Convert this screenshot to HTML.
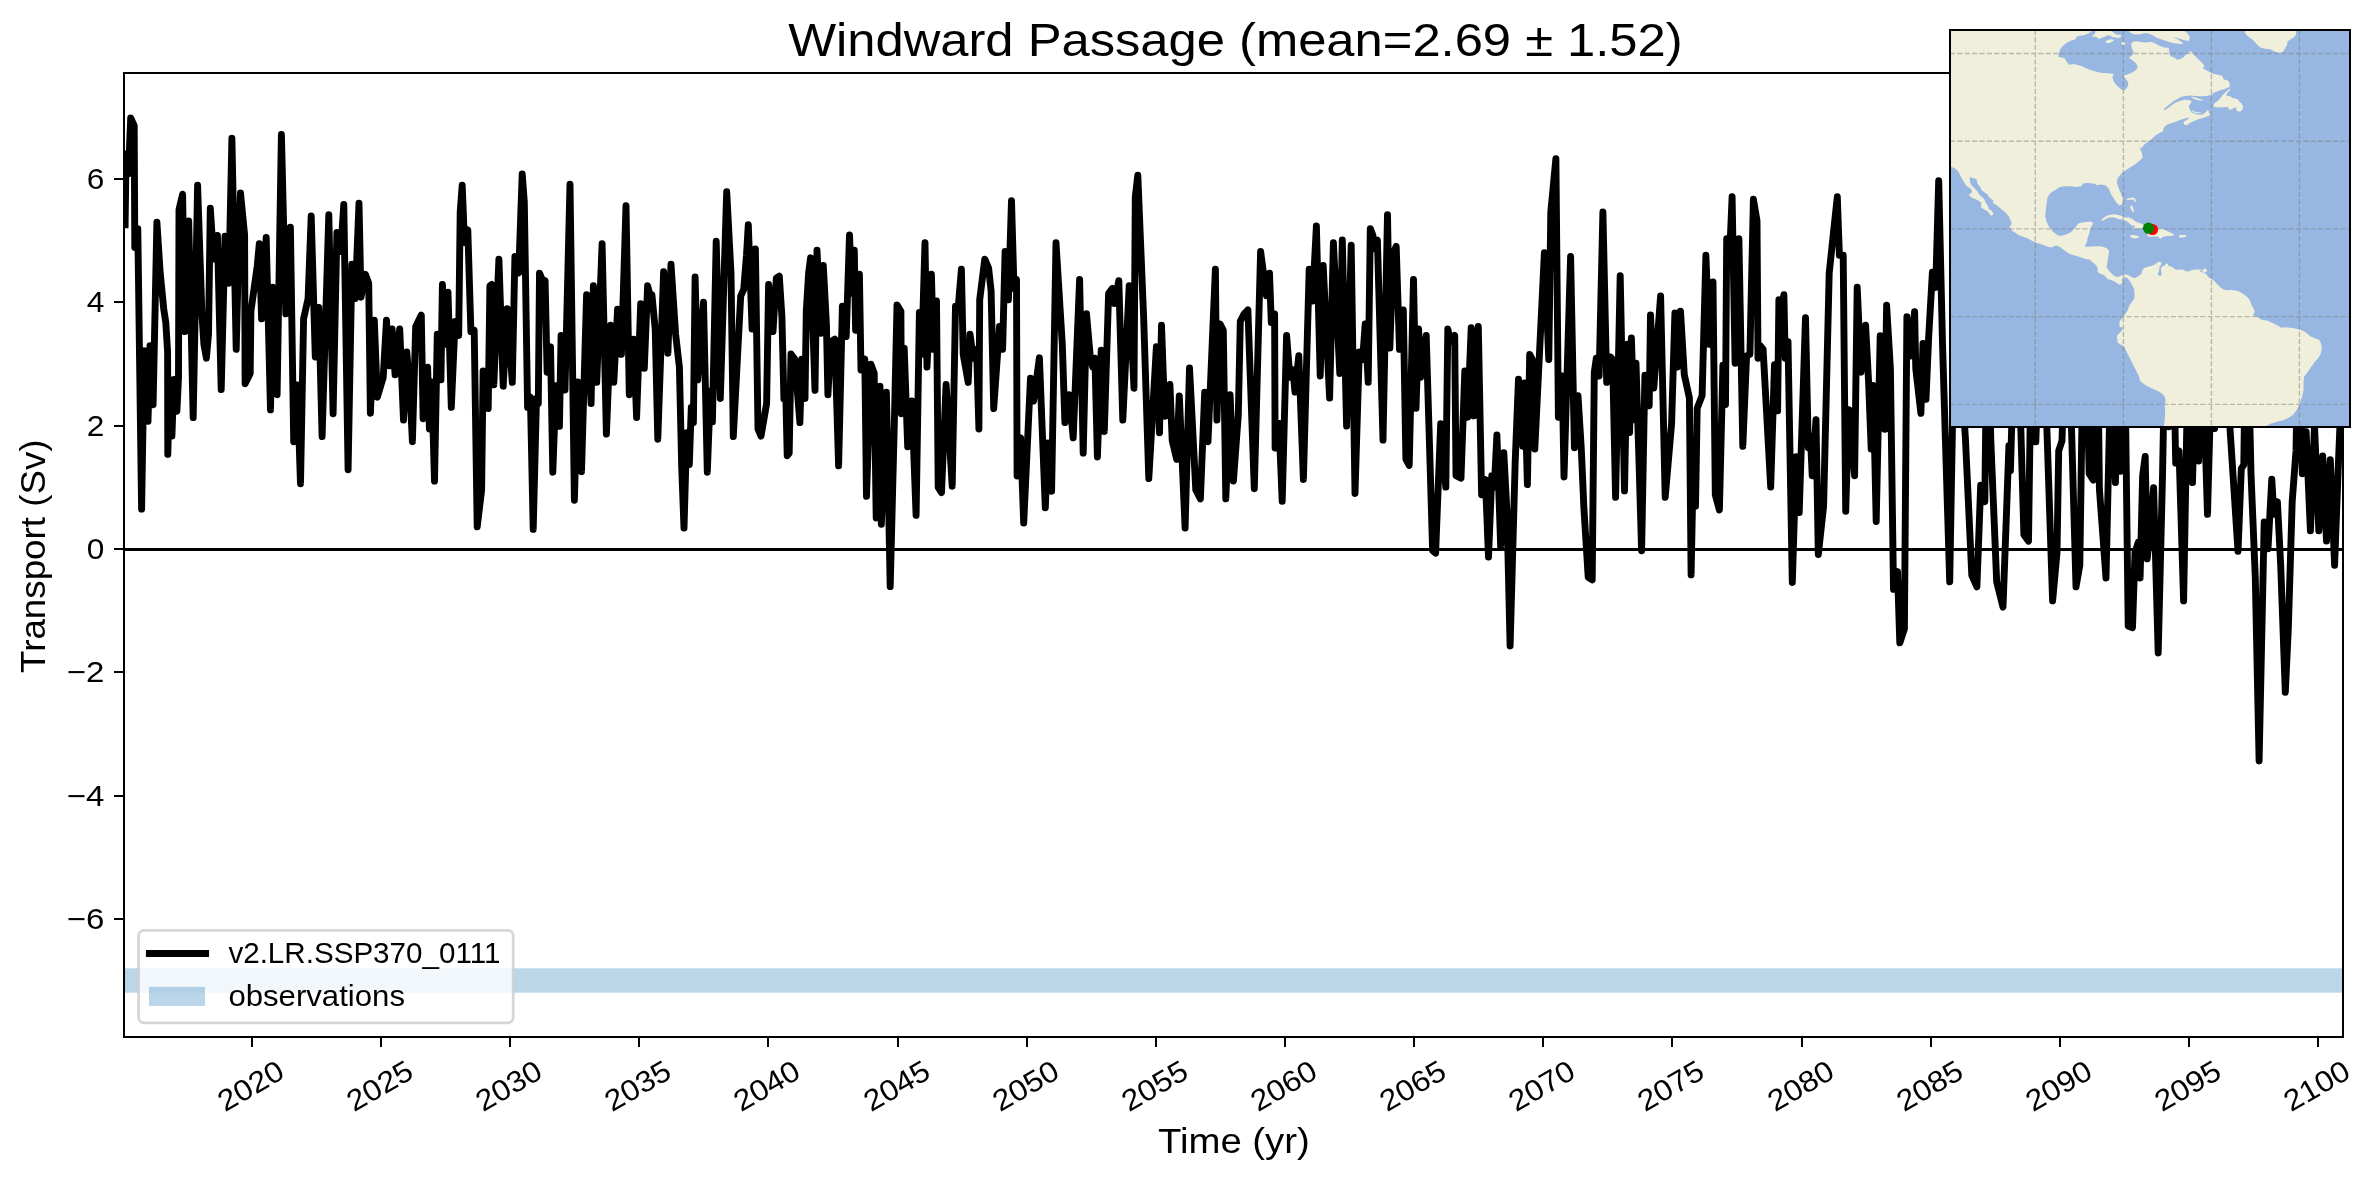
<!DOCTYPE html><html><head><meta charset="utf-8"><title>Windward Passage</title><style>html,body{margin:0;padding:0;background:#fff}svg{display:block;will-change:transform}text{font-family:"Liberation Sans",sans-serif;fill:#000}</style></head><body>
<svg width="2376" height="1180" viewBox="0 0 2376 1180">
<rect width="2376" height="1180" fill="#fff"/>
<defs><clipPath id="ax"><rect x="124.0" y="73.0" width="2219.0" height="964.0"/></clipPath><clipPath id="mp"><rect x="1950" y="30" width="400" height="397"/></clipPath></defs>
<rect x="124.0" y="968.3" width="2219.0" height="24.4" fill="#bbd6e8"/>
<g clip-path="url(#ax)"><path d="M125.1 224.8 L126.1 153.6 L128.4 173.9 L130.7 118.0 L134.2 125.6 L134.8 247.6 L137.8 228.6 L141.6 509.1 L144.2 350.7 L148.0 421.4 L150.0 345.6 L153.1 404.8 L156.9 222.2 L160.2 273.1 L163.7 308.7 L165.8 322.6 L167.6 351.9 L167.8 454.4 L169.6 383.2 L171.9 436.1 L173.9 379.4 L176.9 411.2 L178.5 378.1 L179.0 209.5 L182.6 194.2 L184.8 331.6 L188.7 220.9 L193.2 417.6 L197.6 185.3 L201.9 313.8 L203.9 344.3 L206.4 358.2 L208.5 334.1 L210.3 208.2 L213.6 259.1 L217.4 235.4 L221.2 389.6 L225.0 236.2 L228.8 283.2 L231.9 138.3 L236.2 349.3 L238.2 268.0 L240.5 193.0 L244.6 234.9 L245.1 383.7 L250.2 373.5 L250.9 311.2 L257.3 265.4 L259.3 243.8 L261.6 318.8 L266.2 237.5 L270.5 409.9 L272.6 287.1 L277.1 394.7 L281.4 134.5 L285.8 313.8 L290.4 227.3 L293.7 441.7 L297.2 385.0 L300.5 483.7 L303.6 318.8 L308.1 298.5 L311.2 215.9 L315.3 357.0 L318.8 307.4 L322.1 436.6 L328.8 214.6 L333.1 413.7 L336.9 232.4 L340.7 251.4 L343.8 204.4 L348.1 469.7 L351.9 264.2 L355.2 298.5 L359.0 203.2 L361.0 297.2 L365.4 274.3 L368.7 283.2 L370.4 413.2 L374.3 320.1 L377.3 397.2 L383.2 377.4 L386.5 320.1 L389.0 365.9 L392.1 329.0 L395.1 374.8 L399.7 329.0 L403.5 420.1 L406.8 351.9 L409.9 390.9 L412.4 441.7 L415.7 326.5 L421.3 315.0 L423.1 418.8 L427.6 367.2 L429.4 429.0 L431.7 381.9 L434.5 481.1 L437.3 334.1 L440.9 379.9 L442.4 284.5 L444.9 344.3 L448.0 292.1 L451.3 407.4 L455.1 321.4 L458.7 335.4 L460.2 212.0 L462.2 185.3 L464.5 242.6 L467.8 229.8 L470.9 331.6 L474.2 330.3 L477.2 526.9 L481.6 490.0 L483.1 371.0 L488.2 408.6 L489.9 285.8 L491.7 284.5 L493.8 384.9 L498.9 259.1 L503.2 386.2 L507.2 308.7 L512.3 382.4 L514.9 256.5 L518.7 273.1 L522.2 173.9 L524.3 201.9 L527.6 407.4 L530.4 397.2 L533.2 529.4 L536.5 398.5 L538.3 403.6 L539.5 273.1 L542.1 279.4 L545.1 280.7 L547.1 372.2 L550.5 346.8 L552.8 472.2 L556.0 385.8 L559.4 426.4 L561.1 335.4 L565.0 390.0 L570.0 184.1 L574.4 500.2 L577.7 381.9 L581.5 471.7 L586.6 294.7 L591.1 403.6 L593.4 285.8 L596.7 382.4 L602.1 243.8 L606.4 434.1 L610.7 325.2 L613.8 382.4 L617.6 309.2 L621.4 354.4 L626.0 205.7 L629.3 394.7 L633.6 339.2 L636.6 417.6 L640.7 303.6 L644.3 368.4 L647.6 285.8 L649.6 293.4 L651.9 294.7 L655.2 329.0 L657.8 439.2 L663.6 271.8 L667.9 353.2 L671.0 264.2 L675.6 334.1 L679.4 367.1 L681.7 467.1 L684.0 528.1 L686.7 432.8 L689.3 464.6 L691.3 407.4 L693.4 422.6 L695.1 276.9 L697.7 379.9 L703.5 302.3 L707.3 472.2 L710.4 390.9 L712.4 421.9 L716.2 241.3 L720.3 398.5 L726.7 191.7 L731.0 273.1 L733.3 436.6 L740.7 295.9 L743.7 289.6 L746.5 255.3 L748.3 224.8 L752.1 329.0 L755.4 248.9 L758.0 429.0 L761.0 436.1 L766.6 403.6 L768.6 284.5 L773.0 331.6 L776.3 278.1 L779.3 276.1 L781.9 316.3 L783.9 399.0 L785.7 390.9 L787.2 455.7 L789.2 453.1 L791.0 354.0 L794.8 359.1 L799.9 422.6 L801.7 359.1 L805.0 398.5 L806.3 311.2 L808.6 273.1 L810.6 257.8 L815.0 390.3 L817.0 250.2 L820.9 333.3 L823.3 265.4 L826.4 323.9 L827.9 394.7 L830.9 341.7 L834.8 339.2 L838.6 465.9 L842.4 306.1 L846.2 336.6 L849.5 234.9 L851.8 293.4 L854.3 250.2 L855.6 330.3 L859.4 274.3 L861.0 370.0 L864.8 359.1 L866.5 496.4 L870.9 364.1 L874.2 373.1 L876.2 518.0 L880.0 386.3 L881.3 524.3 L886.4 392.1 L890.2 586.6 L894.5 416.3 L897.0 304.9 L900.9 311.2 L901.4 413.7 L904.2 348.1 L907.7 446.8 L911.8 401.0 L916.1 515.4 L919.4 312.5 L921.7 354.4 L925.0 242.6 L927.0 367.1 L931.4 274.3 L933.4 349.3 L936.5 301.0 L938.2 487.5 L941.5 492.6 L946.1 384.5 L952.2 486.2 L955.5 306.1 L958.1 308.7 L961.4 269.2 L963.2 354.4 L968.2 382.4 L970.0 334.1 L973.3 358.2 L976.6 349.3 L978.9 429.0 L979.7 299.8 L984.8 259.1 L988.6 268.0 L991.1 290.9 L993.7 408.6 L999.5 326.5 L1002.6 349.3 L1005.1 251.4 L1008.4 299.8 L1011.5 200.6 L1014.0 288.3 L1016.5 279.4 L1017.1 476.0 L1020.6 437.9 L1023.7 523.1 L1030.5 378.1 L1033.6 401.0 L1039.4 357.8 L1045.3 507.8 L1047.8 443.0 L1051.6 491.3 L1056.0 242.6 L1062.3 344.3 L1064.9 422.6 L1069.2 394.7 L1073.2 437.9 L1079.6 279.4 L1083.2 453.1 L1086.5 313.8 L1090.3 357.0 L1092.8 367.1 L1094.9 358.2 L1097.4 457.0 L1101.2 350.2 L1104.3 431.5 L1108.6 293.4 L1112.4 288.3 L1114.4 303.6 L1118.8 280.7 L1122.8 420.1 L1129.2 285.8 L1134.0 388.2 L1135.3 196.8 L1137.8 175.2 L1143.7 318.8 L1148.8 478.6 L1156.4 346.8 L1159.5 432.8 L1161.5 325.2 L1164.8 416.3 L1169.9 384.5 L1172.2 440.4 L1176.7 459.5 L1179.3 395.9 L1185.1 528.1 L1189.5 368.0 L1195.8 490.0 L1200.4 498.9 L1204.7 392.1 L1208.0 441.7 L1215.4 269.2 L1216.9 420.1 L1220.0 323.9 L1223.3 330.3 L1225.8 498.9 L1230.1 394.7 L1233.4 481.1 L1238.3 415.0 L1240.3 321.4 L1244.1 313.8 L1247.9 309.9 L1254.3 488.7 L1260.6 251.4 L1266.5 295.9 L1269.5 273.1 L1271.3 322.6 L1274.6 313.8 L1275.1 448.1 L1279.0 423.4 L1282.2 501.4 L1286.6 335.4 L1289.9 377.3 L1292.9 369.7 L1295.0 392.1 L1298.8 355.7 L1303.4 479.5 L1309.2 269.2 L1312.5 301.0 L1316.4 226.0 L1320.2 376.0 L1323.2 265.4 L1329.6 398.1 L1333.4 242.6 L1339.8 373.5 L1342.3 240.0 L1346.6 426.1 L1351.2 245.1 L1355.0 493.5 L1359.3 351.9 L1362.6 359.5 L1365.2 323.9 L1368.2 382.4 L1370.3 228.6 L1372.8 234.9 L1374.6 248.9 L1377.4 240.0 L1383.0 440.1 L1387.5 214.6 L1389.8 348.1 L1393.2 252.7 L1396.2 246.4 L1399.5 349.3 L1403.3 309.9 L1405.9 459.2 L1409.2 465.5 L1413.5 279.4 L1416.0 408.3 L1418.6 329.0 L1420.6 377.3 L1426.2 335.4 L1430.0 461.7 L1432.6 550.7 L1435.6 553.2 L1440.7 423.6 L1445.8 487.1 L1447.8 329.0 L1450.9 341.7 L1454.7 335.4 L1456.0 475.7 L1461.0 478.2 L1464.8 371.0 L1467.6 417.2 L1471.2 327.7 L1473.8 415.9 L1478.3 326.5 L1481.6 494.8 L1485.4 479.5 L1488.5 557.0 L1491.8 475.7 L1494.3 487.1 L1496.9 435.0 L1500.7 546.9 L1503.8 452.8 L1507.0 512.6 L1510.1 646.0 L1515.2 461.7 L1518.5 379.1 L1522.8 446.4 L1524.6 382.9 L1527.4 484.6 L1529.7 354.4 L1533.0 360.8 L1534.8 449.0 L1544.4 252.7 L1548.8 359.5 L1550.8 212.0 L1555.9 158.7 L1558.4 417.2 L1562.2 376.0 L1564.0 477.0 L1570.6 256.5 L1574.4 447.7 L1578.0 395.6 L1581.3 449.0 L1583.8 506.2 L1588.2 577.4 L1592.2 579.9 L1594.3 372.2 L1596.3 358.2 L1599.1 376.0 L1602.9 212.0 L1606.7 382.4 L1610.5 357.0 L1612.6 359.5 L1615.6 497.3 L1620.2 275.6 L1624.5 490.9 L1627.3 344.3 L1629.6 432.5 L1631.4 337.9 L1633.9 419.8 L1636.0 363.3 L1639.0 461.7 L1641.6 550.7 L1644.9 375.3 L1649.2 405.8 L1650.5 315.0 L1653.8 388.0 L1660.6 295.9 L1665.2 497.3 L1671.6 423.6 L1674.9 313.0 L1677.4 367.1 L1680.5 311.2 L1684.3 374.8 L1689.4 398.1 L1691.1 574.9 L1693.4 457.9 L1695.5 506.2 L1697.2 408.3 L1702.1 395.6 L1705.9 255.3 L1709.2 344.3 L1713.0 282.0 L1715.3 494.8 L1719.4 510.0 L1722.9 365.1 L1725.5 404.5 L1726.7 238.7 L1729.5 257.8 L1732.1 196.8 L1735.1 363.3 L1738.9 238.7 L1742.8 446.4 L1746.6 355.7 L1749.9 354.4 L1753.4 199.3 L1757.0 220.9 L1758.0 358.2 L1760.0 345.5 L1763.1 349.3 L1770.7 487.1 L1774.5 364.6 L1777.6 410.9 L1778.9 299.8 L1781.4 311.2 L1783.9 294.7 L1785.2 358.2 L1788.0 341.7 L1792.3 582.5 L1796.2 456.6 L1799.2 512.6 L1805.5 317.6 L1808.3 447.7 L1810.4 436.3 L1812.2 475.7 L1816.0 419.8 L1818.3 554.5 L1823.6 506.2 L1829.2 273.1 L1834.3 224.8 L1837.3 196.8 L1839.4 255.3 L1843.2 255.3 L1845.7 511.3 L1848.8 409.6 L1854.6 475.7 L1857.2 287.1 L1861.0 372.2 L1865.6 325.2 L1868.6 382.4 L1871.2 449.0 L1873.2 385.4 L1876.2 521.5 L1880.2 335.8 L1884.8 429.4 L1886.6 305.3 L1890.4 368.8 L1893.5 589.4 L1897.5 571.6 L1899.8 642.8 L1904.4 628.8 L1906.9 316.7 L1910.2 356.1 L1914.6 311.6 L1915.8 368.8 L1920.9 413.3 L1923.0 343.4 L1926.0 399.3 L1928.6 338.3 L1932.4 272.2 L1935.7 287.5 L1938.7 180.7 L1942.5 343.4 L1949.7 581.8 L1955.2 272.2 L1965.4 438.1 L1971.8 575.4 L1976.9 586.9 L1980.7 485.2 L1984.8 501.7 L1987.5 272.2 L1990.8 440.7 L1996.7 581.8 L2003.0 607.2 L2006.9 501.7 L2008.9 445.8 L2010.4 470.7 L2016.3 272.2 L2023.9 534.8 L2028.5 541.1 L2032.3 272.2 L2035.8 441.9 L2041.7 272.2 L2052.6 600.9 L2057.0 552.6 L2058.7 450.9 L2062.0 440.7 L2067.1 272.2 L2076.0 586.9 L2079.8 565.3 L2084.2 272.2 L2089.2 473.7 L2093.3 480.1 L2096.9 272.2 L2099.4 489.0 L2106.0 578.0 L2110.9 361.9 L2115.4 482.6 L2118.0 374.6 L2120.5 471.2 L2123.8 272.2 L2128.2 626.3 L2132.5 627.6 L2135.0 552.6 L2138.3 542.4 L2140.1 578.0 L2142.6 476.3 L2145.2 456.4 L2147.2 558.9 L2150.3 527.1 L2153.6 487.7 L2158.2 653.0 L2162.5 476.3 L2166.3 272.2 L2168.8 426.7 L2172.1 272.2 L2175.7 463.1 L2179.0 450.9 L2183.6 600.9 L2188.2 349.1 L2192.5 482.6 L2195.5 361.9 L2198.6 461.0 L2202.7 361.9 L2207.5 514.4 L2211.3 374.6 L2214.6 428.5 L2220.9 272.2 L2229.8 425.4 L2238.0 551.3 L2241.3 468.6 L2243.8 464.8 L2246.4 272.2 L2251.0 473.7 L2255.3 578.0 L2259.1 761.0 L2264.2 522.0 L2268.0 548.7 L2271.8 479.3 L2273.8 514.4 L2277.4 501.7 L2280.7 565.3 L2285.3 692.4 L2288.3 628.8 L2292.2 501.7 L2296.0 450.9 L2299.3 272.2 L2302.3 473.7 L2306.1 431.8 L2310.4 530.9 L2314.5 425.4 L2318.8 530.9 L2322.7 455.9 L2326.5 541.1 L2330.3 459.8 L2334.6 565.3 L2338.4 463.6 L2341.0 400.0 L2343.2 349.1" fill="none" stroke="#000" stroke-width="6.9" stroke-linejoin="round" stroke-linecap="square"/>
<line x1="124.0" x2="2343.0" y1="549.5" y2="549.5" stroke="#000" stroke-width="3"/></g>
<rect x="124.0" y="73.0" width="2219.0" height="964.0" fill="none" stroke="#000" stroke-width="2"/>
<line x1="114.0" x2="124.0" y1="179.0" y2="179.0" stroke="#000" stroke-width="2"/>
<text x="104.3" y="189.3" font-size="29.6" text-anchor="end" textLength="17.6" lengthAdjust="spacingAndGlyphs" >6</text>
<line x1="114.0" x2="124.0" y1="302.0" y2="302.0" stroke="#000" stroke-width="2"/>
<text x="104.3" y="312.3" font-size="29.6" text-anchor="end" textLength="17.6" lengthAdjust="spacingAndGlyphs" >4</text>
<line x1="114.0" x2="124.0" y1="426.0" y2="426.0" stroke="#000" stroke-width="2"/>
<text x="104.3" y="436.3" font-size="29.6" text-anchor="end" textLength="17.6" lengthAdjust="spacingAndGlyphs" >2</text>
<line x1="114.0" x2="124.0" y1="549.0" y2="549.0" stroke="#000" stroke-width="2"/>
<text x="104.3" y="559.3" font-size="29.6" text-anchor="end" textLength="17.6" lengthAdjust="spacingAndGlyphs" >0</text>
<line x1="114.0" x2="124.0" y1="672.0" y2="672.0" stroke="#000" stroke-width="2"/>
<text x="104.3" y="682.3" font-size="29.6" text-anchor="end" textLength="37.6" lengthAdjust="spacingAndGlyphs" >−2</text>
<line x1="114.0" x2="124.0" y1="796.0" y2="796.0" stroke="#000" stroke-width="2"/>
<text x="104.3" y="806.3" font-size="29.6" text-anchor="end" textLength="37.6" lengthAdjust="spacingAndGlyphs" >−4</text>
<line x1="114.0" x2="124.0" y1="919.0" y2="919.0" stroke="#000" stroke-width="2"/>
<text x="104.3" y="929.3" font-size="29.6" text-anchor="end" textLength="37.6" lengthAdjust="spacingAndGlyphs" >−6</text>
<line x1="252.0" x2="252.0" y1="1037.0" y2="1047.0" stroke="#000" stroke-width="2"/>
<g transform="translate(250.5,1085.5) rotate(-30)"><text x="0.0" y="10.5" font-size="29.6" text-anchor="middle" textLength="71.0" lengthAdjust="spacingAndGlyphs" >2020</text></g>
<line x1="381.0" x2="381.0" y1="1037.0" y2="1047.0" stroke="#000" stroke-width="2"/>
<g transform="translate(379.5,1085.5) rotate(-30)"><text x="0.0" y="10.5" font-size="29.6" text-anchor="middle" textLength="71.0" lengthAdjust="spacingAndGlyphs" >2025</text></g>
<line x1="510.0" x2="510.0" y1="1037.0" y2="1047.0" stroke="#000" stroke-width="2"/>
<g transform="translate(508.5,1085.5) rotate(-30)"><text x="0.0" y="10.5" font-size="29.6" text-anchor="middle" textLength="71.0" lengthAdjust="spacingAndGlyphs" >2030</text></g>
<line x1="639.0" x2="639.0" y1="1037.0" y2="1047.0" stroke="#000" stroke-width="2"/>
<g transform="translate(637.5,1085.5) rotate(-30)"><text x="0.0" y="10.5" font-size="29.6" text-anchor="middle" textLength="71.0" lengthAdjust="spacingAndGlyphs" >2035</text></g>
<line x1="768.0" x2="768.0" y1="1037.0" y2="1047.0" stroke="#000" stroke-width="2"/>
<g transform="translate(766.5,1085.5) rotate(-30)"><text x="0.0" y="10.5" font-size="29.6" text-anchor="middle" textLength="71.0" lengthAdjust="spacingAndGlyphs" >2040</text></g>
<line x1="898.0" x2="898.0" y1="1037.0" y2="1047.0" stroke="#000" stroke-width="2"/>
<g transform="translate(896.5,1085.5) rotate(-30)"><text x="0.0" y="10.5" font-size="29.6" text-anchor="middle" textLength="71.0" lengthAdjust="spacingAndGlyphs" >2045</text></g>
<line x1="1027.0" x2="1027.0" y1="1037.0" y2="1047.0" stroke="#000" stroke-width="2"/>
<g transform="translate(1025.5,1085.5) rotate(-30)"><text x="0.0" y="10.5" font-size="29.6" text-anchor="middle" textLength="71.0" lengthAdjust="spacingAndGlyphs" >2050</text></g>
<line x1="1156.0" x2="1156.0" y1="1037.0" y2="1047.0" stroke="#000" stroke-width="2"/>
<g transform="translate(1154.5,1085.5) rotate(-30)"><text x="0.0" y="10.5" font-size="29.6" text-anchor="middle" textLength="71.0" lengthAdjust="spacingAndGlyphs" >2055</text></g>
<line x1="1285.0" x2="1285.0" y1="1037.0" y2="1047.0" stroke="#000" stroke-width="2"/>
<g transform="translate(1283.5,1085.5) rotate(-30)"><text x="0.0" y="10.5" font-size="29.6" text-anchor="middle" textLength="71.0" lengthAdjust="spacingAndGlyphs" >2060</text></g>
<line x1="1414.0" x2="1414.0" y1="1037.0" y2="1047.0" stroke="#000" stroke-width="2"/>
<g transform="translate(1412.5,1085.5) rotate(-30)"><text x="0.0" y="10.5" font-size="29.6" text-anchor="middle" textLength="71.0" lengthAdjust="spacingAndGlyphs" >2065</text></g>
<line x1="1543.0" x2="1543.0" y1="1037.0" y2="1047.0" stroke="#000" stroke-width="2"/>
<g transform="translate(1541.5,1085.5) rotate(-30)"><text x="0.0" y="10.5" font-size="29.6" text-anchor="middle" textLength="71.0" lengthAdjust="spacingAndGlyphs" >2070</text></g>
<line x1="1672.0" x2="1672.0" y1="1037.0" y2="1047.0" stroke="#000" stroke-width="2"/>
<g transform="translate(1670.5,1085.5) rotate(-30)"><text x="0.0" y="10.5" font-size="29.6" text-anchor="middle" textLength="71.0" lengthAdjust="spacingAndGlyphs" >2075</text></g>
<line x1="1802.0" x2="1802.0" y1="1037.0" y2="1047.0" stroke="#000" stroke-width="2"/>
<g transform="translate(1800.5,1085.5) rotate(-30)"><text x="0.0" y="10.5" font-size="29.6" text-anchor="middle" textLength="71.0" lengthAdjust="spacingAndGlyphs" >2080</text></g>
<line x1="1931.0" x2="1931.0" y1="1037.0" y2="1047.0" stroke="#000" stroke-width="2"/>
<g transform="translate(1929.5,1085.5) rotate(-30)"><text x="0.0" y="10.5" font-size="29.6" text-anchor="middle" textLength="71.0" lengthAdjust="spacingAndGlyphs" >2085</text></g>
<line x1="2060.0" x2="2060.0" y1="1037.0" y2="1047.0" stroke="#000" stroke-width="2"/>
<g transform="translate(2058.5,1085.5) rotate(-30)"><text x="0.0" y="10.5" font-size="29.6" text-anchor="middle" textLength="71.0" lengthAdjust="spacingAndGlyphs" >2090</text></g>
<line x1="2189.0" x2="2189.0" y1="1037.0" y2="1047.0" stroke="#000" stroke-width="2"/>
<g transform="translate(2187.5,1085.5) rotate(-30)"><text x="0.0" y="10.5" font-size="29.6" text-anchor="middle" textLength="71.0" lengthAdjust="spacingAndGlyphs" >2095</text></g>
<line x1="2318.0" x2="2318.0" y1="1037.0" y2="1047.0" stroke="#000" stroke-width="2"/>
<g transform="translate(2316.5,1085.5) rotate(-30)"><text x="0.0" y="10.5" font-size="29.6" text-anchor="middle" textLength="71.0" lengthAdjust="spacingAndGlyphs" >2100</text></g>
<text x="1235.4" y="55.7" font-size="46.5" text-anchor="middle" textLength="894.5" lengthAdjust="spacingAndGlyphs" >Windward Passage (mean=2.69 ± 1.52)</text>
<text x="1233.9" y="1153.0" font-size="35.2" text-anchor="middle" textLength="151.9" lengthAdjust="spacingAndGlyphs" >Time (yr)</text>
<g transform="translate(45.0,556.2) rotate(-90)"><text x="0.0" y="0.0" font-size="35.2" text-anchor="middle" textLength="233.4" lengthAdjust="spacingAndGlyphs" >Transport (Sv)</text></g>
<rect x="138.6" y="930.4" width="374.6" height="92.5" rx="5.5" ry="5.5" fill="#fff" fill-opacity="0.8" stroke="#ccc" stroke-opacity="0.8" stroke-width="2.8"/>
<line x1="149.4" x2="205.6" y1="953.5" y2="953.5" stroke="#000" stroke-width="6.94" stroke-linecap="square"/>
<rect x="149.0" y="986.9" width="56.0" height="19.1" fill="#1f77b4" fill-opacity="0.3"/>
<text x="228.4" y="962.9" font-size="29.6" text-anchor="start" textLength="272.0" lengthAdjust="spacingAndGlyphs" >v2.LR.SSP370_0111</text>
<text x="228.4" y="1005.9" font-size="29.6" text-anchor="start" textLength="176.6" lengthAdjust="spacingAndGlyphs" >observations</text>
<g clip-path="url(#mp)"><rect x="1950" y="30" width="400" height="397" fill="#97b6e1"/>
<path fill="#efefdb" d="M1946.0 26.0 L2091.9 27.8 L2091.9 30.9 L2088.4 33.6 L2084.8 34.9 L2077.7 36.2 L2075.9 37.6 L2075.5 39.3 L2070.6 40.7 L2065.2 43.8 L2060.8 48.2 L2058.8 52.7 L2058.3 56.7 L2064.3 58.0 L2066.6 61.6 L2068.8 64.7 L2074.1 64.1 L2081.3 66.0 L2088.4 69.2 L2095.5 71.4 L2100.8 72.7 L2108.8 73.2 L2113.7 74.1 L2112.4 77.6 L2113.7 81.6 L2116.8 85.6 L2120.4 88.7 L2123.1 90.5 L2125.7 89.6 L2128.4 85.2 L2127.5 81.2 L2124.0 76.7 L2123.1 75.4 L2127.5 74.5 L2132.9 72.3 L2136.4 69.6 L2137.8 66.9 L2136.4 63.8 L2132.9 60.7 L2128.9 57.6 L2132.9 54.5 L2133.8 52.3 L2132.4 49.6 L2131.5 46.5 L2131.1 43.4 L2133.1 41.8 L2136.7 41.3 L2142.0 42.2 L2146.5 42.5 L2150.9 41.8 L2155.4 43.4 L2159.8 46.0 L2164.3 47.4 L2168.7 47.8 L2169.2 52.7 L2170.5 56.3 L2174.1 57.6 L2177.2 59.8 L2180.3 58.9 L2183.9 57.1 L2186.5 54.0 L2190.5 50.9 L2193.6 54.5 L2197.2 58.0 L2200.8 61.6 L2204.3 65.2 L2203.0 68.7 L2207.0 70.5 L2211.4 73.2 L2216.8 74.5 L2222.1 75.8 L2223.9 79.4 L2227.5 80.3 L2229.7 82.9 L2229.7 86.5 L2228.3 87.4 L2223.9 89.2 L2219.5 90.5 L2215.0 92.3 L2210.6 95.0 L2206.1 95.9 L2200.8 96.3 L2195.4 95.9 L2190.1 95.4 L2185.6 95.9 L2181.2 96.7 L2177.6 99.0 L2174.1 100.7 L2170.5 103.4 L2166.9 106.5 L2163.4 109.6 L2165.2 110.1 L2168.7 107.4 L2172.3 104.8 L2175.8 102.5 L2180.3 100.7 L2184.7 99.7 L2189.2 100.0 L2191.9 101.6 L2190.1 103.9 L2188.8 106.1 L2189.6 108.8 L2190.5 111.0 L2192.3 112.8 L2195.4 114.1 L2199.0 114.8 L2202.5 114.5 L2205.7 112.3 L2207.9 110.1 L2208.9 111.4 L2208.8 113.6 L2211.0 114.5 L2207.9 116.3 L2203.4 117.7 L2199.0 119.0 L2194.5 120.8 L2190.5 122.5 L2187.9 124.8 L2184.7 124.9 L2183.4 123.4 L2183.9 121.7 L2187.4 119.4 L2190.1 117.7 L2186.5 118.1 L2183.0 119.0 L2179.4 120.3 L2175.8 121.7 L2172.3 123.0 L2167.8 124.3 L2164.7 126.6 L2163.2 129.2 L2163.4 131.0 L2156.0 134.9 L2150.7 139.9 L2145.3 143.5 L2140.9 148.8 L2138.6 145.6 L2141.8 152.4 L2142.7 157.7 L2139.1 161.3 L2132.9 165.7 L2125.7 170.2 L2121.3 173.7 L2117.7 178.2 L2116.8 182.6 L2118.6 188.0 L2121.3 194.2 L2123.1 199.5 L2122.2 204.0 L2119.5 205.4 L2116.0 202.2 L2113.3 197.7 L2110.6 193.3 L2108.8 188.8 L2105.3 185.3 L2100.8 184.4 L2097.3 185.3 L2093.7 183.5 L2088.4 183.0 L2083.0 183.5 L2081.3 186.2 L2076.8 187.1 L2070.6 186.2 L2065.2 186.2 L2059.9 187.1 L2054.6 190.6 L2050.1 193.3 L2047.4 197.7 L2046.6 204.0 L2045.7 211.1 L2045.3 216.4 L2046.6 221.8 L2049.2 227.1 L2052.8 231.6 L2057.2 235.1 L2059.9 236.0 L2064.3 235.1 L2070.6 232.5 L2075.0 228.0 L2076.9 225.4 L2078.2 223.6 L2081.8 222.5 L2086.3 222.0 L2090.3 221.4 L2092.7 222.3 L2092.9 224.0 L2091.6 226.3 L2090.3 229.4 L2089.4 232.5 L2088.7 235.2 L2087.6 237.8 L2087.1 241.4 L2085.8 244.5 L2084.5 246.3 L2086.7 246.7 L2091.6 246.5 L2096.0 246.3 L2100.5 246.3 L2104.5 247.2 L2107.6 248.9 L2109.2 251.2 L2108.9 253.8 L2108.1 257.4 L2107.6 261.0 L2107.2 264.5 L2106.5 267.2 L2108.5 269.9 L2110.7 272.5 L2112.9 274.8 L2115.2 276.5 L2118.3 277.0 L2121.4 275.6 L2124.1 274.3 L2127.2 274.8 L2129.9 276.1 L2132.5 277.4 L2135.2 277.9 L2137.9 276.5 L2140.5 274.8 L2141.9 272.5 L2142.3 269.9 L2144.1 268.1 L2147.7 266.7 L2151.2 265.9 L2154.8 264.5 L2157.9 262.3 L2159.7 261.7 L2161.7 262.7 L2161.0 265.0 L2159.7 266.3 L2159.2 268.5 L2159.2 270.7 L2157.9 273.4 L2158.3 275.2 L2160.1 276.1 L2161.7 274.8 L2161.4 272.5 L2161.0 269.9 L2161.4 267.2 L2162.8 266.3 L2165.0 265.0 L2166.3 263.2 L2167.7 264.1 L2168.6 265.9 L2171.7 266.7 L2174.3 268.5 L2175.7 269.7 L2179.7 269.4 L2183.2 269.7 L2185.9 271.2 L2188.6 271.6 L2191.3 270.3 L2194.8 269.4 L2199.3 269.4 L2201.9 269.9 L2199.7 271.2 L2201.9 272.3 L2203.7 272.7 L2206.4 274.3 L2208.2 277.0 L2210.8 278.8 L2214.4 281.0 L2217.1 284.1 L2219.7 286.8 L2223.3 289.4 L2226.8 290.3 L2231.3 289.9 L2235.7 290.5 L2240.2 292.1 L2243.8 294.3 L2247.3 297.0 L2249.5 299.7 L2250.0 301.0 L2251.9 305.4 L2253.7 309.0 L2254.9 311.7 L2252.8 315.2 L2257.2 317.0 L2261.7 319.7 L2267.0 320.6 L2273.2 323.2 L2278.6 325.9 L2281.3 327.7 L2286.6 327.3 L2293.7 328.2 L2299.9 329.5 L2305.3 332.1 L2310.6 336.6 L2315.1 338.3 L2319.5 340.1 L2321.3 344.6 L2321.8 349.0 L2320.4 354.4 L2317.7 358.8 L2314.2 362.4 L2310.6 367.7 L2307.1 373.1 L2304.0 376.6 L2303.5 383.7 L2303.5 390.8 L2301.7 398.0 L2299.4 405.1 L2296.4 410.4 L2293.7 414.0 L2289.3 417.5 L2283.0 420.2 L2275.9 422.0 L2270.6 423.8 L2266.1 425.9 L2266.1 430.0 L2163.8 430.0 L2163.8 425.9 L2164.7 419.3 L2165.2 412.2 L2164.7 405.1 L2165.6 399.7 L2163.8 395.3 L2159.3 391.7 L2153.1 389.1 L2146.0 385.5 L2140.0 381.1 L2139.1 376.6 L2132.9 364.2 L2127.5 353.5 L2124.0 346.4 L2117.7 342.8 L2116.8 335.7 L2121.3 331.2 L2123.1 327.7 L2119.5 326.8 L2119.5 321.4 L2123.1 317.0 L2127.5 310.8 L2129.3 305.4 L2134.6 298.3 L2134.8 301.0 L2134.3 297.4 L2134.5 293.9 L2134.1 289.4 L2132.7 285.9 L2130.9 282.8 L2129.1 280.1 L2127.2 278.0 L2125.0 277.2 L2122.9 278.0 L2121.7 279.8 L2122.6 281.4 L2122.0 283.6 L2119.6 284.8 L2116.5 282.8 L2113.8 281.0 L2110.3 280.1 L2107.2 278.8 L2105.8 276.5 L2103.2 274.8 L2099.6 273.4 L2097.4 271.6 L2097.8 269.9 L2096.9 266.3 L2094.3 263.6 L2091.6 261.4 L2089.8 259.4 L2086.3 259.2 L2081.8 257.8 L2077.4 256.3 L2073.8 255.2 L2070.2 254.3 L2066.7 252.1 L2063.1 249.4 L2059.6 246.7 L2056.0 245.4 L2051.0 247.6 L2046.6 246.3 L2040.3 244.0 L2033.2 241.4 L2028.0 238.6 L2024.6 237.3 L2021.2 236.3 L2018.5 234.9 L2015.8 232.9 L2012.7 231.2 L2010.7 229.2 L2009.4 226.8 L2011.1 225.1 L2011.6 222.7 L2010.4 220.3 L2009.4 217.6 L2007.0 214.2 L2004.3 211.5 L2001.6 209.5 L1998.8 207.1 L1996.8 205.1 L1994.1 203.7 L1992.7 202.4 L1993.8 200.7 L1992.1 199.7 L1990.0 198.0 L1988.3 196.3 L1987.7 194.2 L1985.6 193.2 L1983.3 191.5 L1981.2 189.8 L1980.9 188.1 L1978.8 185.4 L1977.2 182.4 L1976.8 179.7 L1975.1 178.6 L1973.1 178.2 L1970.7 177.3 L1969.6 177.8 L1969.8 179.3 L1970.0 181.7 L1970.7 184.1 L1972.7 186.4 L1975.1 188.8 L1977.5 191.5 L1979.2 194.2 L1981.2 196.6 L1983.6 198.6 L1984.9 200.7 L1986.3 203.4 L1988.0 206.1 L1988.5 208.8 L1990.0 209.5 L1992.1 211.5 L1993.6 213.9 L1992.1 215.6 L1990.4 215.6 L1989.4 213.2 L1986.6 210.8 L1983.9 209.2 L1981.1 207.5 L1981.2 204.7 L1981.1 202.4 L1978.5 200.7 L1975.8 199.3 L1972.4 198.0 L1969.7 195.9 L1968.7 194.2 L1971.4 193.2 L1972.1 191.2 L1971.1 189.2 L1969.0 187.5 L1966.3 186.1 L1964.6 183.1 L1962.6 179.7 L1960.2 175.6 L1958.8 172.2 L1956.8 169.8 L1954.1 168.1 L1951.1 166.8 L1946.0 166.8Z"/>
<path fill="#efefdb" d="M2129.1 27.8 L2129.1 30.9 L2130.5 33.1 L2134.9 34.5 L2140.3 34.2 L2145.6 32.9 L2149.2 33.8 L2152.7 35.3 L2157.2 38.0 L2162.5 39.8 L2167.8 41.6 L2174.1 43.2 L2180.3 44.0 L2183.7 43.4 L2181.2 41.8 L2177.6 39.3 L2173.4 36.9 L2175.8 37.4 L2180.3 38.9 L2184.7 40.2 L2188.8 40.9 L2189.9 38.0 L2188.8 34.9 L2186.5 32.4 L2184.3 30.9 L2184.3 27.8Z"/>
<path fill="#efefdb" d="M2244.8 27.8 L2244.8 30.9 L2245.7 34.0 L2248.8 37.1 L2253.3 40.2 L2256.8 44.2 L2260.4 47.4 L2264.8 48.7 L2270.2 49.3 L2274.6 51.4 L2278.2 52.7 L2282.6 52.3 L2284.9 48.7 L2287.1 45.1 L2287.5 41.6 L2290.6 39.3 L2294.2 37.1 L2296.0 34.5 L2296.2 30.9 L2296.2 27.8Z"/>
<path fill="#efefdb" d="M2095.5 27.8 L2095.5 30.9 L2094.6 34.0 L2091.5 36.2 L2096.4 37.1 L2099.1 38.9 L2102.6 37.6 L2108.8 34.9 L2112.4 37.1 L2118.6 38.0 L2121.7 36.2 L2120.4 34.9 L2116.0 34.5 L2113.3 32.2 L2110.6 30.9 L2110.6 27.8Z"/>
<path fill="#efefdb" d="M2105.3 42.0 L2107.1 40.2 L2110.6 39.3 L2114.6 39.8 L2112.4 41.6 L2109.7 42.9 L2106.6 42.9Z"/>
<path fill="#efefdb" d="M2120.9 43.4 L2123.1 41.6 L2125.7 43.4 L2123.5 45.6Z"/>
<path fill="#efefdb" d="M2229.7 88.7 L2225.7 92.3 L2222.6 95.0 L2220.8 97.6 L2218.1 100.7 L2214.6 103.0 L2213.7 104.8 L2213.2 106.5 L2216.8 107.2 L2222.1 107.4 L2226.6 107.0 L2229.2 107.9 L2228.8 110.1 L2231.9 109.2 L2234.6 107.4 L2236.4 107.4 L2236.2 110.1 L2238.1 111.4 L2240.8 111.6 L2242.6 109.2 L2243.0 106.5 L2241.7 103.4 L2239.5 102.1 L2238.6 99.9 L2235.5 98.5 L2232.4 98.1 L2230.1 96.3 L2227.5 95.9 L2226.1 94.7 L2228.3 91.8 L2230.6 89.2Z"/>
<path fill="#efefdb" d="M2191.0 96.7 L2195.4 97.6 L2199.9 99.0 L2203.0 100.0 L2201.7 100.7 L2197.2 99.9 L2192.8 98.5Z"/>
<path fill="#efefdb" d="M2191.9 110.1 L2194.5 111.4 L2198.1 112.5 L2201.7 112.1 L2199.0 113.6 L2195.4 113.0 L2192.8 111.9Z"/>
<path fill="#efefdb" d="M2101.4 219.8 L2104.1 217.4 L2107.6 215.6 L2111.2 214.4 L2114.7 214.2 L2118.3 214.9 L2121.8 216.0 L2125.4 217.4 L2129.0 217.4 L2131.6 218.7 L2134.3 220.5 L2136.5 222.0 L2139.6 223.1 L2142.8 224.3 L2144.1 225.8 L2143.6 227.6 L2140.5 228.2 L2137.0 228.5 L2134.3 229.1 L2133.2 228.5 L2135.2 226.7 L2134.3 225.8 L2131.6 225.2 L2129.4 223.6 L2127.6 221.8 L2125.4 220.5 L2122.3 219.6 L2118.3 219.0 L2115.2 217.8 L2112.1 217.2 L2108.9 217.5 L2105.8 219.0 L2103.2 220.5 L2101.6 220.7Z"/>
<path fill="#efefdb" d="M2129.9 235.6 L2132.5 235.0 L2136.1 235.2 L2138.8 236.5 L2139.2 237.6 L2136.5 238.0 L2134.3 238.7 L2131.6 237.4 L2130.0 236.5Z"/>
<path fill="#efefdb" d="M2146.9 235.3 L2150.3 233.4 L2152.1 229.8 L2157.4 228.7 L2161.0 228.7 L2164.1 229.4 L2167.2 231.1 L2170.3 232.5 L2173.0 233.8 L2173.9 234.9 L2171.7 235.9 L2168.1 235.9 L2165.0 236.5 L2162.8 236.9 L2161.0 238.5 L2159.9 238.9 L2158.8 237.1 L2156.6 236.5 L2153.0 236.5 L2150.3 236.8 L2148.1 236.5Z"/>
<path fill="#efefdb" d="M2179.0 235.2 L2182.4 234.8 L2185.9 235.2 L2186.1 237.1 L2182.4 237.6 L2179.2 237.6Z"/>
<path fill="#efefdb" d="M2126.7 198.7 L2129.9 198.0 L2133.0 197.6 L2135.2 198.7 L2135.9 200.9 L2135.2 202.4 L2134.3 201.3 L2133.6 199.6 L2130.7 199.7 L2127.2 200.0Z"/>
<path fill="#efefdb" d="M2130.3 205.8 L2132.1 205.3 L2133.2 208.0 L2134.1 211.1 L2133.0 212.2 L2131.6 210.2 L2130.3 207.6Z"/>
<path fill="#efefdb" d="M2202.8 269.4 L2205.5 268.3 L2206.8 269.9 L2206.4 272.1 L2203.7 272.7 L2202.4 271.6Z"/>
<path d="M2035.3 30V427M2123.4 30V427M2211.4 30V427M2299.4 30V427M1950 53.5H2350M1950 141.2H2350M1950 228.9H2350M1950 316.6H2350M1950 404.4H2350" fill="none" stroke="#808080" stroke-opacity="0.5" stroke-width="1.4" stroke-dasharray="5.14 2.22"/>
<circle cx="2152.5" cy="229.5" r="5.6" fill="#ff0000"/><circle cx="2148.5" cy="228.2" r="5.6" fill="#008000"/>
</g>
<rect x="1950" y="30" width="400" height="397" fill="none" stroke="#000" stroke-width="2"/>
</svg></body></html>
